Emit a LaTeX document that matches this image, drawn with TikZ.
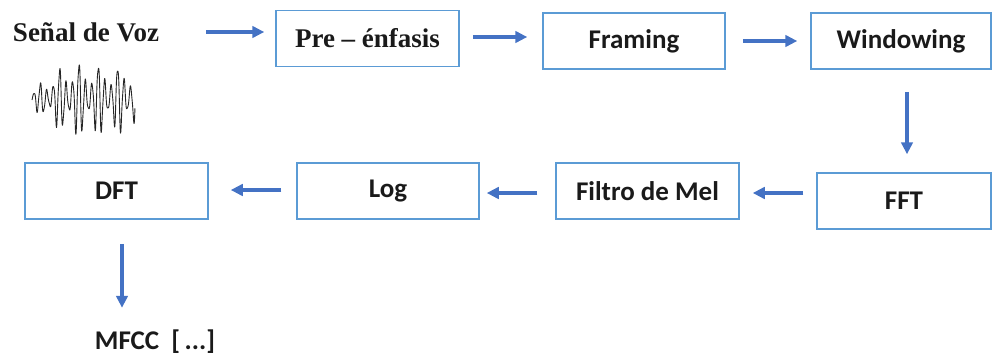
\documentclass[tikz,border=0pt]{standalone}
\usepackage{fontspec}
\setmainfont{Liberation Serif}
\newfontfamily\carlito{Carlito}
\usetikzlibrary{arrows.meta}
\definecolor{boxblue}{HTML}{5B9BD5}
\definecolor{arrblue}{HTML}{4472C4}
\definecolor{ink}{HTML}{1A1A1A}
\begin{document}
\begin{tikzpicture}[x=1pt,y=-1pt,
  stage/.style={draw=boxblue, line width=1.5pt, minimum height=56pt,
    inner sep=0pt, text=ink, font=\carlito\bfseries\fontsize{27}{32}\selectfont},
  serifstage/.style={stage, font=\bfseries\fontsize{27}{32}\selectfont},
  arr/.style={draw=arrblue, line width=3.3pt, -{Triangle[length=12pt,width=11.5pt]}},
  lbl/.style={inner sep=0pt, text=ink}]
\useasboundingbox (0,0) rectangle (992,356);

% input signal and its waveform
\node[lbl, font=\bfseries\fontsize{27}{32}\selectfont] (sv) at (86,32) {Señal de Voz};
\draw[black!85, line width=0.9pt, line join=round]
  plot[domain=0:1, samples=500, smooth]
  ({32+103*\x},
   {99 - 40*min(1,0.22+2.2*\x)*(1-0.2*\x)
        *(0.3+0.7*(0.5+0.5*cos(360*5.2*(\x-0.456))))
        *(sin(16*360*\x-16.6)+0.15*sin(37*360*\x))});

% processing stages
\node[serifstage, minimum width=183pt] (pre) at (367.5,38.5) {Pre -- énfasis};
\node[stage, minimum width=182pt] (fr)  at (634,41)  {Framing};
\node[stage, minimum width=180pt] (win) at (901,41)  {Windowing};
\node[stage, minimum width=174pt] (fft) at (904,201) {FFT};
\node[stage, minimum width=183pt] (mel) at (647.5,191) {Filtro de Mel};
\node[stage, minimum width=182pt] (log) at (388,191) {Log};
\node[stage, minimum width=183pt] (dft) at (116.5,191) {DFT};
\node[lbl, font=\carlito\bfseries\fontsize{27}{32}\selectfont] (mfcc) at (155,342) {MFCC\hspace{0.45em}[\,...]};

% connectors
\draw[arr] ([xshift=47pt]sv.east) -- ([xshift=-11pt]sv.east -| pre.west);
\draw[arr] ([xshift=13pt,yshift=1.5pt]pre.east) -- ([xshift=-15pt,yshift=1.5pt]pre.east -| fr.west);
\draw[arr] ([xshift=17pt]fr.east) -- ([xshift=-13pt]fr.east -| win.west);
\draw[arr] ([xshift=6pt,yshift=-22pt]win.south) -- ([xshift=6pt,yshift=18pt]win.south |- fft.north);
\draw[arr] ([xshift=-13pt,yshift=-2pt]fft.west |- mel.east) -- ([xshift=13pt,yshift=-2pt]mel.east);
\draw[arr] ([xshift=-18pt,yshift=-2pt]mel.west) -- ([xshift=7pt,yshift=-2pt]mel.west -| log.east);
\draw[arr] ([xshift=-15pt,yshift=1pt]log.west) -- ([xshift=22pt,yshift=1pt]log.west -| dft.east);
\draw[arr] ([xshift=5.5pt,yshift=-24pt]dft.south) -- ([xshift=5.5pt,yshift=-88pt]dft.south);
\end{tikzpicture}
\end{document}
